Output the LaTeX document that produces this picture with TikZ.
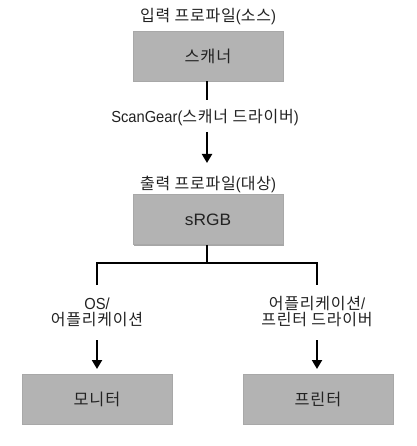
\documentclass[tikz,border=0pt]{standalone}
\usepackage{fontspec}
\setmainfont{Liberation Sans}[FakeStretch=0.92]
\newfontfamily\kr{Noto Sans CJK KR}[LetterSpace=5]
\newfontfamily\wide{Liberation Sans}[FakeStretch=1.05]
\usetikzlibrary{shadows,arrows.meta}
\definecolor{boxgray}{HTML}{B3B3B3}
\definecolor{boxedge}{HTML}{A8A8A8}
\definecolor{txt}{HTML}{222222}
\tikzset{
  box/.style={minimum width=150pt, minimum height=50pt, inner sep=0pt, fill=boxgray,
    draw=boxedge, line width=0.6pt, text=txt, font=\fontsize{16.3}{18}\selectfont,
    drop shadow={shadow xshift=1.2pt, shadow yshift=-1.2pt, fill=black, opacity=0.35}},
  lbl/.style={font=\fontsize{16}{16}\selectfont, text=txt, inner sep=0pt, align=center},
  conn/.style={line width=2pt},
  arr/.style={line width=2pt, -{Triangle[length=9pt,width=10pt]}},
}
\begin{document}
\begin{tikzpicture}[x=1pt,y=-1pt]
\useasboundingbox (0,0) rectangle (416,446);
\node[lbl] (t1) at (208,17) {{\kr 입력 프로파일}({\kr 소스})};
\node[box] (scan) at (208,56) {{\kr 스캐너}};
\coordinate (c1) at (207,100);
\node[lbl] (sg) at (205,118) {ScanGear({\kr 스캐너 드라이버})};
\coordinate (a1s) at (207,132);
\coordinate (a1e) at (207,163);
\node[lbl] (t2) at (208,185) {{\kr 출력 프로파일}({\kr 대상})};
\node[box, font=\fontsize{16.5}{18}\selectfont\wide] (srgb) at (208,219.5) {sRGB};
\coordinate (j) at (207,263);
\coordinate (jl) at (97,263);
\coordinate (jr) at (317,263);
\coordinate (dl) at (97,285);
\coordinate (dr) at (317,285);
\node[lbl] (ll) at (97,312) {OS/\\{\kr 어플리케이션}};
\node[lbl] (lr) at (317,312) {{\kr 어플리케이션}/\\{\kr 프린터 드라이버}};
\coordinate (a2s) at (97,340);
\coordinate (a2e) at (97,369);
\coordinate (a3s) at (317,340);
\coordinate (a3e) at (317,369);
\node[box] (mon) at (97,399) {{\kr 모니터}};
\node[box] (prt) at (318,399) {{\kr 프린터}};
\draw[conn] (scan.south -| c1) -- (c1);
\draw[arr] (a1s) -- (a1e);
\draw[conn] (srgb.south -| j) -- (j);
\draw[conn] (dl) -- (jl) -- (jr) -- (dr);
\draw[arr] (a2s) -- (a2e);
\draw[arr] (a3s) -- (a3e);
\end{tikzpicture}
\end{document}
